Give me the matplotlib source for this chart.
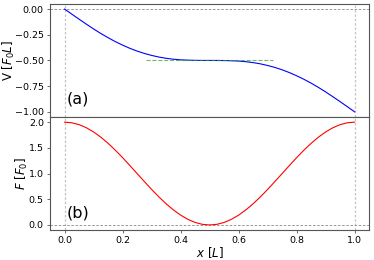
import matplotlib
matplotlib.use("Agg")
import matplotlib.pyplot as plt
import numpy as np

# positions along the beam, in units of L
x = np.linspace(0.0, 1.0, 41)

# shear force V [F0 L]
V = [0.000, -0.050, -0.099, -0.147, -0.194, -0.238, -0.279, -0.317, -0.351,
     -0.382, -0.409, -0.432, -0.451, -0.467, -0.479, -0.488, -0.494, -0.497,
     -0.499, -0.500, -0.500, -0.500, -0.501, -0.503, -0.506, -0.512, -0.521,
     -0.533, -0.549, -0.568, -0.591, -0.618, -0.649, -0.683, -0.721, -0.762,
     -0.806, -0.853, -0.901, -0.950, -1.000]

# load F [F0]
F = [2.000, 1.988, 1.951, 1.891, 1.809, 1.707, 1.588, 1.454, 1.309, 1.156,
     1.000, 0.844, 0.691, 0.546, 0.412, 0.293, 0.191, 0.109, 0.049, 0.012,
     0.000, 0.012, 0.049, 0.109, 0.191, 0.293, 0.412, 0.546, 0.691, 0.844,
     1.000, 1.156, 1.309, 1.454, 1.588, 1.707, 1.809, 1.891, 1.951, 1.988,
     2.000]

# flat tangent at the middle
tangent_x = [0.28, 0.72]
tangent_y = [-0.5, -0.5]

fig, (ax1, ax2) = plt.subplots(2, 1, sharex=True, figsize=(3.74, 2.60), dpi=100)
fig.subplots_adjust(left=0.134, right=0.987, top=0.985, bottom=0.115, hspace=0)

for ax in (ax1, ax2):
    ax.axvline(0.0, color="#c4c4c4", ls="--", lw=0.9, dashes=(2, 1.5), zorder=0)
    ax.axvline(1.0, color="#c4c4c4", ls="--", lw=0.9, dashes=(2, 1.5), zorder=0)
    ax.axhline(0.0, color="#888888", ls="--", lw=0.6, dashes=(3, 2), zorder=0)
    for s in ax.spines.values():
        s.set_color("#555555")
        s.set_linewidth(0.8)
    ax.tick_params(labelsize=6.8, width=0.6, length=2.5, pad=2, colors="#555555",
                   labelcolor="black")

ax1.plot(x, V, color="blue", lw=0.8)
ax1.plot(tangent_x, tangent_y, color="#2ca02c", ls="--", lw=0.8, alpha=0.7)
ax1.set_ylim(-1.05, 0.05)
ax1.set_yticks([0.0, -0.25, -0.5, -0.75, -1.0])
ax1.set_ylabel(r"V [$F_0L$]", fontsize=8.5)
ax1.yaxis.set_label_coords(-0.103, 0.5)
ax1.text(0.007, -0.92, "(a)", fontsize=11.5)

ax2.plot(x, F, color="red", lw=0.8)
ax2.set_ylim(-0.1, 2.1)
ax2.set_yticks([0.0, 0.5, 1.0, 1.5, 2.0])
ax2.set_ylabel(r"$F$ [$F_0$]", fontsize=8.5)
ax2.yaxis.set_label_coords(-0.062, 0.5)
ax2.text(0.007, 0.14, "(b)", fontsize=11.5)

ax2.set_xlim(-0.05, 1.05)
ax2.set_xticks([0.0, 0.2, 0.4, 0.6, 0.8, 1.0])
ax2.set_xlabel(r"$x$ [$L$]", fontsize=8.5, labelpad=0)

plt.savefig("out.png", dpi=100)
plt.close()
